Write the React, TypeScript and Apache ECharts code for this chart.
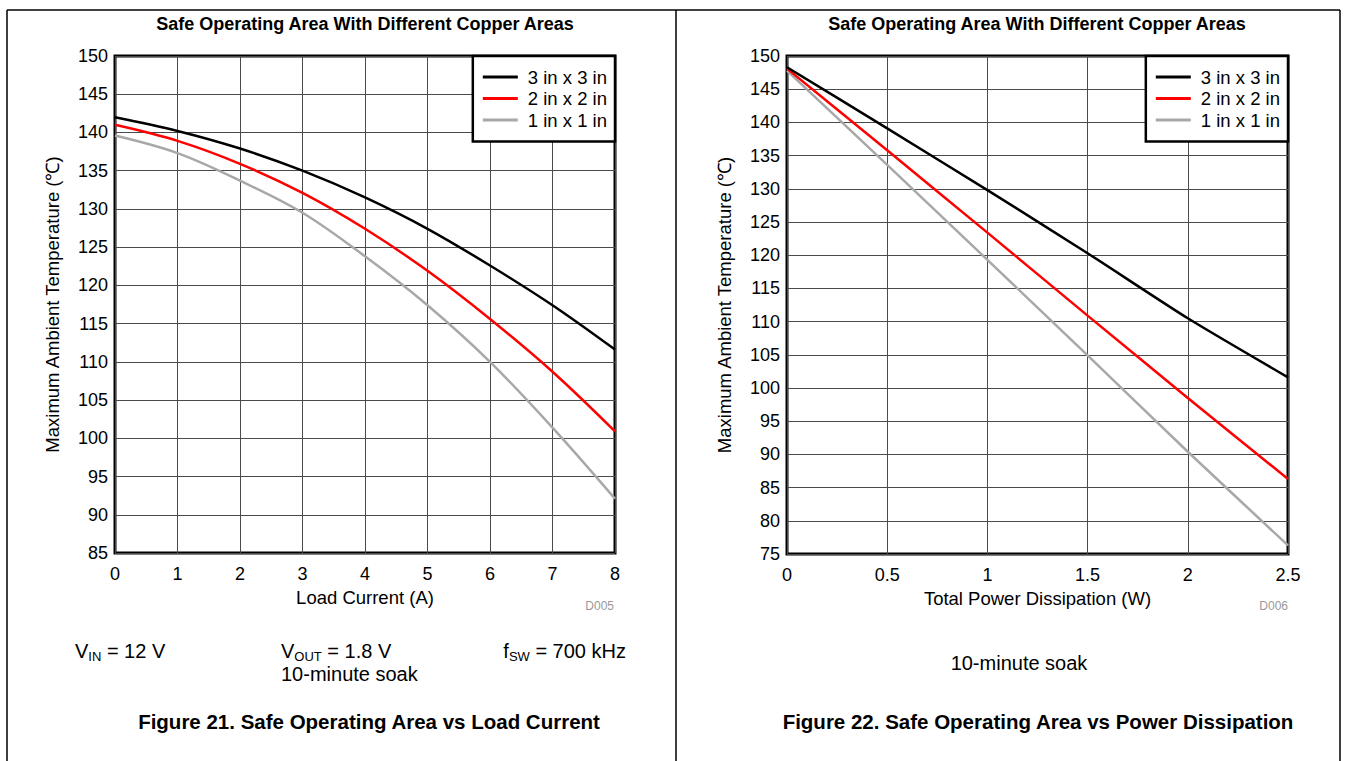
import React, { useEffect, useRef } from "react";
import * as echarts from "echarts";

const loadCurrent = [0, 1, 2, 3, 4, 5, 6, 7, 8];
const cu3Load = [142, 140.2, 137.9, 135, 131.5, 127.4, 122.6, 117.4, 111.6];
const cu2Load = [141, 138.9, 135.9, 132.1, 127.4, 121.9, 115.6, 108.7, 100.9];
const cu1Load = [139.6, 137.3, 133.7, 129.5, 123.8, 117.4, 110, 101.4, 92.1];

const powerDiss = [0, 0.5, 1, 1.5, 2, 2.5];
const cu3Pwr = [148.3, 139.1, 129.8, 120.3, 110.5, 101.6];
const cu2Pwr = [148.1, 135.8, 123.4, 110.9, 98.5, 86.3];
const cu1Pwr = [147.8, 133.6, 119.3, 104.9, 90.4, 76.3];

const seriesNames = ["3 in x 3 in", "2 in x 2 in", "1 in x 1 in"];
const seriesColors = ["#000000", "#ff0000", "#a8a8a8"];

const FONT = "Liberation Sans, Arial, sans-serif";

function pairs(xs: number[], ys: number[]) {
  return xs.map((x, i) => [x, ys[i]]);
}

function txt(x: number, y: number, text: string, opts: any = {}) {
  return {
    type: "text",
    x,
    y,
    silent: true,
    style: {
      text,
      fontFamily: FONT,
      fontSize: 20,
      fill: "#000",
      align: opts.align || "center",
      textAlign: opts.align || "center",
      verticalAlign: "middle",
      textVerticalAlign: "middle",
      fontWeight: opts.bold ? "bold" : "normal",
      ...opts.style,
      rich: {
        s: { fontSize: 13, fontFamily: FONT, lineHeight: 13, padding: [11, 0, 0, 0] },
      },
    },
  };
}

function frameLine(x1: number, y1: number, x2: number, y2: number) {
  return {
    type: "line",
    silent: true,
    shape: { x1, y1, x2, y2 },
    style: { stroke: "#000", lineWidth: 1.5 },
  };
}

export default function App() {
  const ref = useRef<HTMLDivElement>(null);
  useEffect(() => {
    if (!ref.current) return;
    const chart = echarts.init(ref.current, undefined, { renderer: "svg" });

    const gridCommon = {
      show: true,
      borderColor: "#000",
      borderWidth: 3,
      backgroundColor: "#fff",
      containLabel: false,
    };
    const axisLabel = { fontFamily: FONT, fontSize: 18, color: "#000" };
    const splitLine = { show: true, lineStyle: { color: "#4a4a4a", width: 1 } };
    const nameText = { fontFamily: FONT, fontSize: 18.5, color: "#000" };

    const mkX = (gridIndex: number, max: number, interval: number, name: string) => ({
      type: "value",
      gridIndex,
      min: 0,
      max,
      interval,
      name,
      nameLocation: "middle",
      nameGap: 35,
      nameTextStyle: nameText,
      axisLine: { show: false },
      axisTick: { show: false },
      axisLabel: { ...axisLabel, margin: 12 },
      splitLine,
    });
    const mkY = (gridIndex: number, min: number) => ({
      type: "value",
      gridIndex,
      min,
      max: 150,
      interval: 5,
      name: "Maximum Ambient Temperature (℃)",
      nameLocation: "middle",
      nameGap: 53,
      nameTextStyle: nameText,
      axisLine: { show: false },
      axisTick: { show: false },
      axisLabel: { ...axisLabel, margin: 7 },
      splitLine,
    });

    const leftData = [cu3Load, cu2Load, cu1Load];
    const rightData = [cu3Pwr, cu2Pwr, cu1Pwr];

    const series: any[] = [];
    seriesNames.forEach((n, i) => {
      series.push({
        type: "line",
        name: n,
        xAxisIndex: 0,
        yAxisIndex: 0,
        data: pairs(loadCurrent, leftData[i]),
        smooth: 0.35,
        showSymbol: false,
        symbol: "none",
        lineStyle: { color: seriesColors[i], width: 2.5 },
        itemStyle: { color: seriesColors[i] },
        z: 5 - i,
      });
      series.push({
        type: "line",
        name: n,
        xAxisIndex: 1,
        yAxisIndex: 1,
        data: pairs(powerDiss, rightData[i]),
        smooth: 0.2,
        showSymbol: false,
        symbol: "none",
        lineStyle: { color: seriesColors[i], width: 2.5 },
        itemStyle: { color: seriesColors[i] },
        z: 5 - i,
      });
    });

    const legendCommon = {
      orient: "vertical",
      top: 56,
      backgroundColor: "#fff",
      borderColor: "#000",
      borderWidth: 2.5,
      borderRadius: 0,
      padding: [11.5, 8, 12, 10],
      icon: "rect",
      itemWidth: 35,
      itemHeight: 3,
      itemGap: 2.5,
      selectedMode: false,
      textStyle: { fontFamily: FONT, fontSize: 18.5, color: "#000", padding: [0, 0, 0, 5] },
      data: seriesNames,
      z: 10,
    };

    chart.setOption({
      animation: false,
      backgroundColor: "#fff",
      grid: [
        { ...gridCommon, left: 115, top: 56, width: 500, height: 497 },
        { ...gridCommon, left: 787, top: 56, width: 501, height: 498 },
      ],
      xAxis: [
        mkX(0, 8, 1, "Load Current (A)"),
        mkX(1, 2.5, 0.5, "Total Power Dissipation (W)"),
      ],
      yAxis: [mkY(0, 85), mkY(1, 75)],
      legend: [
        { ...legendCommon, right: 1347 - 615 },
        { ...legendCommon, right: 1347 - 1288 },
      ],
      series,
      graphic: [
        frameLine(7, 10, 1340, 10),
        frameLine(7, 10, 7, 761),
        frameLine(676, 10, 676, 761),
        frameLine(1340, 10, 1340, 761),
        txt(365, 24, "Safe Operating Area With Different Copper Areas", { bold: true, style: { fontSize: 18 } }),
        txt(1037, 24, "Safe Operating Area With Different Copper Areas", { bold: true, style: { fontSize: 18 } }),
        txt(614, 606, "D005", { align: "right", style: { fontSize: 12, fill: "#999" } }),
        txt(1288, 606, "D006", { align: "right", style: { fontSize: 12, fill: "#999" } }),
        txt(75, 651, "V{s|IN} = 12 V", { align: "left" }),
        txt(281, 651, "V{s|OUT} = 1.8 V", { align: "left" }),
        txt(626, 651, "f{s|SW} = 700 kHz", { align: "right" }),
        txt(281, 674, "10-minute soak", { align: "left" }),
        txt(1019, 663, "10-minute soak"),
        txt(369, 721, "Figure 21. Safe Operating Area vs Load Current", { bold: true, style: { fontSize: 20.5 } }),
        txt(1038, 721, "Figure 22. Safe Operating Area vs Power Dissipation", { bold: true, style: { fontSize: 20.5 } }),
      ],
    });
    return () => chart.dispose();
  }, []);
  return (
    <div
      ref={ref}
      style={{ position: "fixed", left: 0, top: 0, width: 1347, height: 761, background: "#fff" }}
    />
  );
}
